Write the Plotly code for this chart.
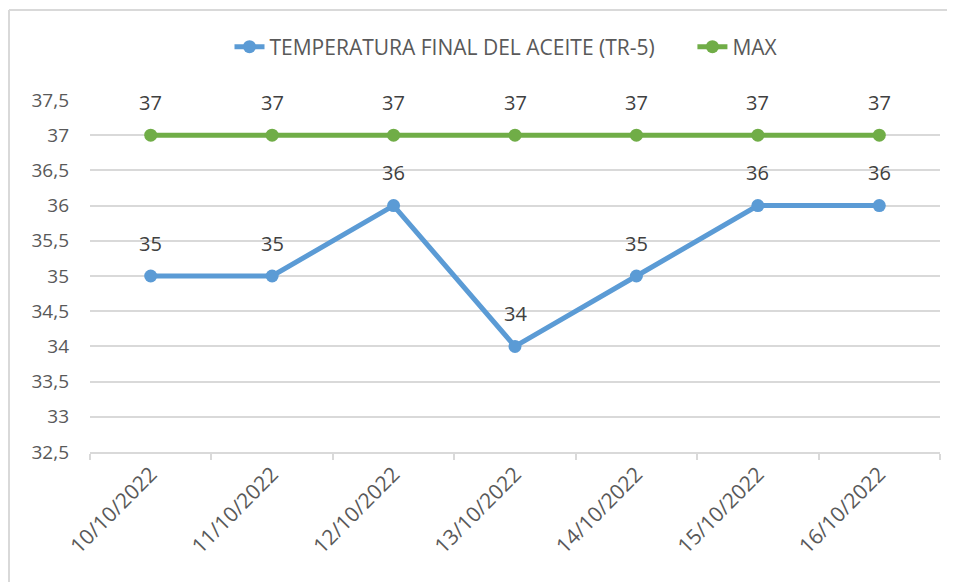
import plotly.graph_objects as go

dates = ["10/10/2022", "11/10/2022", "12/10/2022", "13/10/2022",
         "14/10/2022", "15/10/2022", "16/10/2022"]
temp_final = [35, 35, 36, 34, 35, 36, 36]
max_vals = [37, 37, 37, 37, 37, 37, 37]
y_tickvals = [32.5, 33, 33.5, 34, 34.5, 35, 35.5, 36, 36.5, 37, 37.5]
y_ticktext = ["32,5", "33", "33,5", "34", "34,5", "35", "35,5", "36", "36,5", "37", "37,5"]

BLUE = "#5B9BD5"
GREEN = "#70AD47"
FONT = "Open Sans, DejaVu Sans, sans-serif"

# the page body has an 8px margin: plot area in page px is x 90..940, y 100..452
L, R, T, B = 82, 23, 92, 138
PW, PH = 955 - L - R, 582 - T - B

fig = go.Figure()
fig.add_trace(go.Scatter(
    x=dates, y=temp_final, mode="lines+markers",
    name="TEMPERATURA FINAL DEL ACEITE (TR-5)" + "\u00a0" * 6,
    line=dict(color=BLUE, width=5), marker=dict(color=BLUE, size=13)))
fig.add_trace(go.Scatter(
    x=dates, y=max_vals, mode="lines+markers", name="MAX",
    line=dict(color=GREEN, width=5), marker=dict(color=GREEN, size=13)))

annotations = []
for series in (temp_final, max_vals):
    for d, v in zip(dates, series):
        annotations.append(dict(x=d, y=v, text=str(v), showarrow=False,
                                yanchor="middle", yshift=33,
                                font=dict(family=FONT, size=20, color="#404040")))

bx = (1 - L) / PW
by = (PH - 2 + T) / PH  # y=2 in div coords
fig.update_layout(
    width=955, height=582,
    margin=dict(l=L, r=R, t=T, b=B),
    paper_bgcolor="white", plot_bgcolor="white",
    showlegend=True,
    legend=dict(orientation="h", x=0.49, xanchor="center", y=(T + PH - 39) / PH,
                yanchor="middle",
                font=dict(family=FONT, size=21, color="#595959"),
                tracegroupgap=0),
    annotations=annotations,
    shapes=[
        dict(type="line", xref="paper", yref="paper", x0=bx, x1=1.2, y0=by, y1=by,
             line=dict(color="#d9d9d9", width=2)),
        dict(type="line", xref="paper", yref="paper", x0=bx, x1=bx, y0=by, y1=-0.6,
             line=dict(color="#d9d9d9", width=2)),
    ],
)
fig.update_xaxes(
    type="category", range=[-0.5, 6.5], tickangle=-45,
    tickson="boundaries", ticks="outside", ticklen=6, tickcolor="#d9d9d9",
    tickwidth=1.5,
    showline=True, linecolor="#d9d9d9", linewidth=1.5, showgrid=False,
    tickfont=dict(family=FONT, size=21, color="#595959"))
fig.update_yaxes(
    range=[32.5, 37.5], tickvals=y_tickvals, ticktext=y_ticktext,
    showgrid=True, gridcolor="#d9d9d9", gridwidth=1.5, zeroline=False,
    showline=False, ticks="", ticklabelstandoff=20,
    tickfont=dict(family=FONT, size=19, color="#595959"))

fig.write_html("out.html")
